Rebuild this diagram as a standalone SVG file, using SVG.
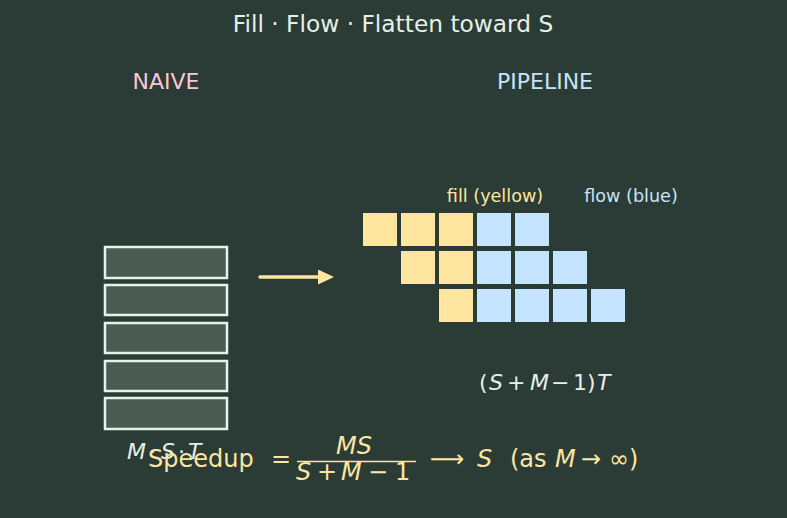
<svg xmlns="http://www.w3.org/2000/svg" width="787" height="518" viewBox="0 0 787 518">
  <style>
    text { font-family: "DejaVu Sans", "Liberation Sans", sans-serif; }
    .title { font-size: 23.3px; fill: #e6f0e8; text-anchor: middle; }
    .hdr { font-size: 22px; text-anchor: middle; }
    .lbl { font-size: 17.6px; text-anchor: middle; }
    .math { font-size: 22px; fill: #e6f0e8; }
    .sp { font-size: 24px; fill: #fde6a0; }
    .it { font-style: italic; }
    .naive { fill: #4a5c52; stroke: #e4f4ea; stroke-width: 2.5; }
    .y { fill: #fee5a0; }
    .b { fill: #c4e4ff; }
  </style>
  <defs>
    <marker id="ah" markerWidth="16" markerHeight="16" refX="2" refY="7.5" orient="auto" markerUnits="userSpaceOnUse">
      <path d="M0,0 L16,7.5 L0,15 Z" fill="#fee5a0"/>
    </marker>
  </defs>
  <rect width="787" height="518" fill="#2b3b35"/>

  <text class="title" x="393" y="32">Fill · Flow · Flatten toward S</text>
  <text class="hdr" x="166" y="89" fill="#f8c8d8">NAIVE</text>
  <text class="hdr" x="545" y="89" fill="#c8e4f8">PIPELINE</text>

  <g id="naive">
    <rect class="naive" x="105" y="247" width="122" height="31"/>
    <rect class="naive" x="105" y="285" width="122" height="30"/>
    <rect class="naive" x="105" y="323" width="122" height="30"/>
    <rect class="naive" x="105" y="361" width="122" height="30"/>
    <rect class="naive" x="105" y="398" width="122" height="31"/>
  </g>

  <g id="connectors">
    <line x1="260" y1="277" x2="320" y2="277" stroke="#fee5a0" stroke-width="3.5" stroke-linecap="round" marker-end="url(#ah)"/>
  </g>

  <g id="pipeline">
    <rect class="y" x="363" y="213" width="34" height="33"/>
    <rect class="y" x="401" y="213" width="34" height="33"/>
    <rect class="y" x="439" y="213" width="34" height="33"/>
    <rect class="b" x="477" y="213" width="34" height="33"/>
    <rect class="b" x="515" y="213" width="34" height="33"/>

    <rect class="y" x="401" y="251" width="34" height="33"/>
    <rect class="y" x="439" y="251" width="34" height="33"/>
    <rect class="b" x="477" y="251" width="34" height="33"/>
    <rect class="b" x="515" y="251" width="34" height="33"/>
    <rect class="b" x="553" y="251" width="34" height="33"/>

    <rect class="y" x="439" y="289" width="34" height="33"/>
    <rect class="b" x="477" y="289" width="34" height="33"/>
    <rect class="b" x="515" y="289" width="34" height="33"/>
    <rect class="b" x="553" y="289" width="34" height="33"/>
    <rect class="b" x="591" y="289" width="34" height="33"/>
  </g>

  <text class="lbl" x="495" y="202" fill="#fee5a0">fill (yellow)</text>
  <text class="lbl" x="631" y="202" fill="#c8e4f8">flow (blue)</text>

  <text class="math" y="390"><tspan x="479">(</tspan><tspan x="489" class="it">S</tspan><tspan x="507">+</tspan><tspan x="530" class="it">M</tspan><tspan x="551">−</tspan><tspan x="573">1</tspan><tspan x="587">)</tspan><tspan x="597" class="it">T</tspan></text>

  <text class="math it" y="459" font-size="19"><tspan x="127">M</tspan><tspan x="149" font-style="normal">·</tspan><tspan x="161">S</tspan><tspan x="178" font-style="normal">·</tspan><tspan x="188">T</tspan></text>

  <g id="speedup">
    <text class="sp" x="148" y="467">Speedup</text>
    <text class="sp" x="271" y="467">=</text>
    <text class="sp it" x="336" y="454">MS</text>
    <line x1="297" y1="461.5" x2="416" y2="461.5" stroke="#fee5a0" stroke-width="1.5"/>
    <text class="sp" y="480"><tspan x="296" class="it">S</tspan><tspan x="317">+</tspan><tspan x="341" class="it">M</tspan><tspan x="368">−</tspan><tspan x="395">1</tspan></text>
    <text class="sp" x="430" y="467">⟶</text>
    <text class="sp it" x="477" y="467">S</text>
    <text class="sp" y="467"><tspan x="510">(as</tspan><tspan x="555" class="it">M</tspan><tspan x="581">→</tspan><tspan x="609">∞)</tspan></text>
  </g>
</svg>
